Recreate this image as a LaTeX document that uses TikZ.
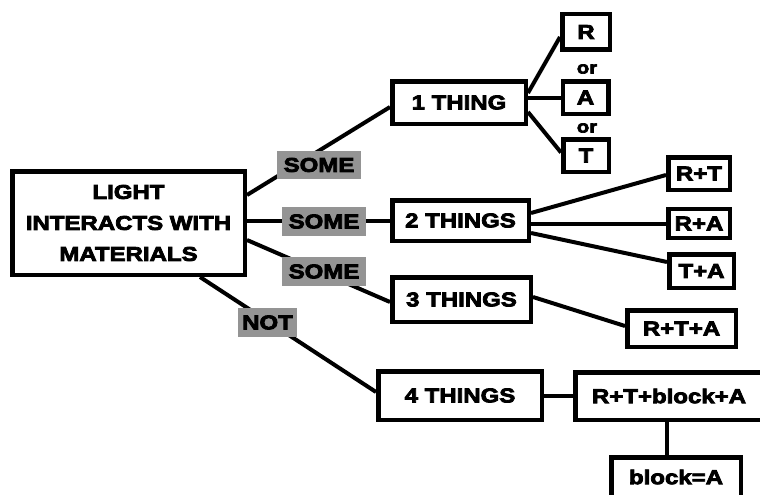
\documentclass[tikz,border=0pt]{standalone}
\usepackage{fontspec}
\newfontfamily\lbl{Liberation Sans Bold}[FakeStretch=1.2, FakeBold=4]
\usetikzlibrary{calc}
\definecolor{labelgray}{RGB}{148,148,148}
\tikzset{
  box/.style={draw=black, line width=4.5pt, fill=white, inner sep=0pt, font=\lbl\fontsize{20}{23}\selectfont},
  conn/.style={draw=black, line width=4pt},
  tag/.style={fill=labelgray, inner sep=0pt, font=\lbl\fontsize{20}{23}\selectfont},
  ortext/.style={inner sep=0pt, font=\lbl\fontsize{17}{20}\selectfont}
}
\begin{document}
\begin{tikzpicture}[x=1pt,y=-1pt]
\useasboundingbox (0,0) rectangle (760,495);
% boxes
\node[box, minimum width=232.5pt, minimum height=103.5pt, align=center, font=\lbl\fontsize{20}{31}\selectfont] (main) at (128.5,223) {LIGHT\\INTERACTS WITH\\MATERIALS};
\node[box, minimum width=133.5pt, minimum height=42.5pt] (one) at (459,102.5) {1 THING};
\node[box, minimum width=47.5pt, minimum height=35.5pt] (r) at (586,32) {R};
\node[box, minimum width=45.5pt, minimum height=32.5pt] (a) at (585.5,97.5) {A};
\node[box, minimum width=45.5pt, minimum height=32.5pt] (t) at (586,155.5) {T};
\node[box, minimum width=136.5pt, minimum height=40.5pt] (two) at (460.5,220.5) {2 THINGS};
\node[box, minimum width=61.5pt, minimum height=32.5pt] (rt) at (699,173.5) {R+T};
\node[box, minimum width=61.5pt, minimum height=29pt] (ra) at (699,223.5) {R+A};
\node[box, minimum width=64.5pt, minimum height=33.5pt] (ta) at (701.5,271) {T+A};
\node[box, minimum width=138.5pt, minimum height=44.5pt] (three) at (461.5,299.5) {3 THINGS};
\node[box, minimum width=108.5pt, minimum height=36.5pt] (rta) at (681.5,328.5) {R+T+A};
\node[box, minimum width=163.5pt, minimum height=48.5pt] (four) at (460,395.5) {4 THINGS};
\node[box, minimum width=187.5pt, minimum height=47.5pt] (rtba) at (669,396) {R+T+block+A};
\node[box, minimum width=129.5pt, minimum height=39.5pt] (blocka) at (676,477) {block=A};
% or
\node[ortext] (or1) at (587,69) {or};
\node[ortext] (or2) at (587,128) {or};
% connectors
\begin{scope}[every path/.style={conn}]
\draw ([yshift=-26pt]main.north east) -- ([yshift=-4.5pt]one.west);
\draw (main.east |- two.west) -- (two.west);
\draw ([yshift=-17pt]main.east) -- ([yshift=-2.5pt]three.west);
\draw ([xshift=71.5pt]main.south) -- ([yshift=3.5pt]four.west);
\draw ([yshift=9.5pt]one.east) -- ([yshift=-5pt]r.west);
\draw (one.east |- a.west) -- (a.west);
\draw ([yshift=-9.5pt]one.east) -- ([yshift=3pt]t.west);
\draw ([yshift=7.5pt]two.east) -- ([yshift=-1.5pt]rt.west);
\draw (two.east |- ra.west) -- (ra.west);
\draw ([yshift=-12.5pt]two.east) -- ([yshift=9pt]ta.west);
\draw ([yshift=2.5pt]three.east) -- ([yshift=2.5pt]rta.west);
\draw (four.east) -- (four.east -| rtba.west);
\draw ([xshift=-9pt]blocka.north |- rtba.south) -- ([xshift=-9pt]blocka.north);
\end{scope}
% labels on connectors
\node[tag, minimum width=84pt, minimum height=28pt] (some1) at (319,165) {SOME};
\node[tag, minimum width=84pt, minimum height=29pt] (some2) at (324,221.5) {SOME};
\node[tag, minimum width=84pt, minimum height=29pt] (some3) at (324,271.5) {SOME};
\node[tag, minimum width=59pt, minimum height=29pt] (not) at (267.5,322.5) {NOT};
\end{tikzpicture}
\end{document}
